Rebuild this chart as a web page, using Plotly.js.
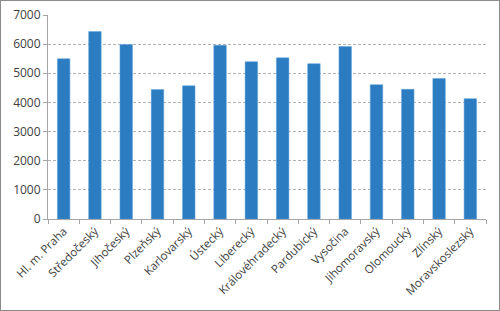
<!DOCTYPE html>
<html>
<head>
<meta charset="utf-8">
<script src="https://cdn.plot.ly/plotly-3.0.1.min.js"></script>
<style>
html,body{margin:0;padding:0;background:#fff;}
#wrap{position:absolute;left:0;top:0;width:498px;height:309px;border:1px solid #8c8c8c;}
#chart{position:absolute;left:-1px;top:-1px;width:500px;height:311px;}
</style>
</head>
<body>
<div id="wrap"><div id="chart"></div></div>
<script>
const categories = ["Hl. m. Praha","Středočeský","Jihočeský","Plzeňský","Karlovarský","Ústecký","Liberecký","Královéhradecký","Pardubický","Vysočina","Jihomoravský","Olomoucký","Zlínský","Moravskoslezský"];
const values = [5500, 6430, 5990, 4440, 4570, 5960, 5400, 5530, 5330, 5920, 4610, 4450, 4820, 4130];
const yTicks = [0,1000,2000,3000,4000,5000,6000,7000];

Plotly.newPlot('chart', [{
  type: 'bar',
  x: categories,
  y: values,
  marker: {color: '#2b7cc1', line: {color: '#5ea3dc', width: 0.5}},
  hoverinfo: 'none'
}], {
  width: 500, height: 311,
  margin: {l: 48, r: 14, t: 15, b: 92},
  paper_bgcolor: 'rgba(0,0,0,0)',
  plot_bgcolor: '#fff',
  bargap: 0.6,
  showlegend: false,
  font: {family: 'Open Sans, sans-serif', size: 11.5, color: '#404040'},
  xaxis: {
    type: 'category',
    tickangle: -45,
    showline: true, linecolor: '#a6a6a6', linewidth: 1,
    ticks: 'outside', tickson: 'boundaries', ticklen: 4, tickcolor: '#a6a6a6',
    showgrid: false,
    tickfont: {size: 11.5, color: '#404040'}
  },
  yaxis: {
    range: [0, 7000],
    tickvals: yTicks,
    ticktext: yTicks.map(String),
    showline: true, linecolor: '#a6a6a6', linewidth: 1,
    ticks: 'outside', ticklen: 4, tickcolor: '#a6a6a6',
    showgrid: true, gridcolor: '#b3b3b3', griddash: '3px,2px', gridwidth: 1,
    zeroline: false,
    tickfont: {size: 12, color: '#404040'}
  }
}, {staticPlot: true, displayModeBar: false});
</script>
</body>
</html>
